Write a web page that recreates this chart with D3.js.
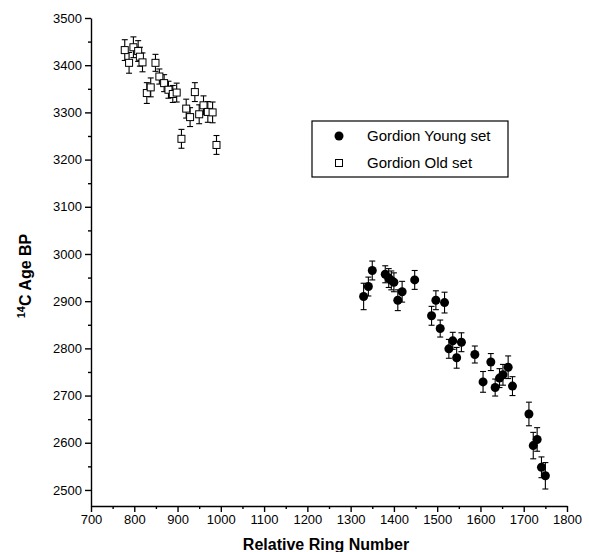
<!DOCTYPE html>
<html>
<head>
<meta charset="utf-8">
<script src="https://cdn.jsdelivr.net/npm/d3@7"></script>
<style>
  body { margin: 0; background: #fff; }
  text { font-family: "Liberation Sans", Arial, sans-serif; }
</style>
</head>
<body>
<svg id="chart" width="589" height="552"></svg>
<script>
// Gordion Old set (ring number, 14C age, error)
const oldRing = [778, 788, 798, 809, 813, 819, 829, 838, 849, 858, 869, 879, 889, 898, 909, 920, 929, 940, 950, 960, 970, 981, 990];
const oldAge  = [3432, 3405, 3438, 3430, 3418, 3406, 3341, 3353, 3405, 3376, 3362, 3348, 3339, 3342, 3244, 3308, 3290, 3343, 3296, 3315, 3301, 3300, 3231];
const oldErr  = [22, 22, 22, 22, 20, 20, 22, 20, 18, 16, 18, 18, 18, 20, 20, 20, 20, 20, 20, 20, 22, 22, 20];

// Gordion Young set
const youngRing = [1330, 1341, 1350, 1380, 1388, 1394, 1400, 1409, 1419, 1448, 1487, 1497, 1507, 1517, 1527, 1536, 1545, 1556, 1587, 1606, 1624, 1634, 1644, 1652, 1664, 1674, 1712, 1722, 1731, 1741, 1750];
const youngAge  = [2910, 2931, 2965, 2957, 2949, 2944, 2940, 2902, 2920, 2945, 2869, 2902, 2842, 2897, 2799, 2816, 2780, 2813, 2787, 2729, 2771, 2717, 2737, 2744, 2760, 2720, 2661, 2594, 2607, 2548, 2530];
const youngErr  = [28, 20, 20, 18, 20, 20, 20, 22, 22, 20, 20, 20, 18, 22, 20, 18, 22, 20, 18, 22, 18, 18, 20, 22, 24, 20, 25, 28, 25, 22, 28];

const xTicks = [700, 800, 900, 1000, 1100, 1200, 1300, 1400, 1500, 1600, 1700, 1800];
const yTicks = [2500, 2600, 2700, 2800, 2900, 3000, 3100, 3200, 3300, 3400, 3500];
const seriesNames = ["Gordion Young set", "Gordion Old set"];

const svg = d3.select("#chart");
const mLeft = 91, mRight = 567, mTop = 18, mBottom = 506;

const x = d3.scaleLinear().domain([700, 1800]).range([mLeft, mRight]);
const y = d3.scaleLinear().domain([2466, 3500]).range([mBottom, mTop]);

const minorX = d3.range(750, 1800, 100);
const minorY = d3.range(2550, 3500, 100);
const fmt = d3.format("d");

// axes
svg.append("g")
  .attr("transform", `translate(0,${mBottom})`)
  .call(d3.axisBottom(x).tickValues(xTicks).tickFormat(fmt).tickSizeInner(6).tickSizeOuter(0).tickPadding(3));
svg.append("g")
  .attr("transform", `translate(0,${mBottom})`)
  .call(d3.axisBottom(x).tickValues(minorX).tickSize(3).tickFormat(""))
  .select(".domain").remove();

svg.append("g")
  .attr("transform", `translate(${mLeft},0)`)
  .call(d3.axisLeft(y).tickValues(yTicks).tickFormat(fmt).tickSizeInner(6).tickSizeOuter(0).tickPadding(3));
svg.append("g")
  .attr("transform", `translate(${mLeft},0)`)
  .call(d3.axisLeft(y).tickValues(minorY).tickSize(3).tickFormat(""))
  .select(".domain").remove();

svg.selectAll(".domain, .tick line").attr("stroke", "#000").attr("stroke-width", 1.4);
svg.selectAll(".tick text").attr("font-size", "13px").attr("fill", "#000")
  .attr("font-family", "'Liberation Sans', Arial, sans-serif");

// axis titles
svg.append("text")
  .attr("x", (mLeft + mRight) / 2 - 3)
  .attr("y", mBottom + 44)
  .attr("text-anchor", "middle")
  .attr("font-size", "16px")
  .attr("font-weight", "bold")
  .text("Relative Ring Number");

const yt = svg.append("text")
  .attr("transform", `translate(31,276) rotate(-90)`)
  .attr("text-anchor", "middle")
  .attr("font-size", "16px")
  .attr("font-weight", "bold");
yt.append("tspan").attr("font-size", "11px").attr("dy", "-6").text("14");
yt.append("tspan").attr("dy", "6").text("C Age BP");

// error bars + markers
function drawSeries(ring, age, err, kind) {
  const g = svg.append("g");
  const d = ring.map((r, i) => ({ r: r, a: age[i], e: err[i] }));
  const eb = g.selectAll("g.eb").data(d).enter().append("g").attr("class", "eb")
    .attr("stroke", "#000").attr("stroke-width", 1.1);
  eb.append("line")
    .attr("x1", p => x(p.r)).attr("x2", p => x(p.r))
    .attr("y1", p => y(p.a - p.e)).attr("y2", p => y(p.a + p.e));
  eb.append("line")
    .attr("x1", p => x(p.r) - 3).attr("x2", p => x(p.r) + 3)
    .attr("y1", p => y(p.a - p.e)).attr("y2", p => y(p.a - p.e));
  eb.append("line")
    .attr("x1", p => x(p.r) - 3).attr("x2", p => x(p.r) + 3)
    .attr("y1", p => y(p.a + p.e)).attr("y2", p => y(p.a + p.e));
  if (kind === "circle") {
    g.selectAll("circle").data(d).enter().append("circle")
      .attr("cx", p => x(p.r)).attr("cy", p => y(p.a)).attr("r", 4.5)
      .attr("fill", "#000");
  } else {
    g.selectAll("rect").data(d).enter().append("rect")
      .attr("x", p => x(p.r) - 3.5).attr("y", p => y(p.a) - 3.5)
      .attr("width", 7).attr("height", 7)
      .attr("fill", "#fff").attr("stroke", "#000").attr("stroke-width", 1);
  }
}
drawSeries(oldRing, oldAge, oldErr, "square");
drawSeries(youngRing, youngAge, youngErr, "circle");

// legend
const lg = svg.append("g");
lg.append("rect").attr("x", 312).attr("y", 121).attr("width", 196).attr("height", 56)
  .attr("fill", "#fff").attr("stroke", "#000").attr("stroke-width", 1.2);
lg.append("circle").attr("cx", 339).attr("cy", 136).attr("r", 4.5).attr("fill", "#000");
lg.append("rect").attr("x", 335.5).attr("y", 159.5).attr("width", 7).attr("height", 7)
  .attr("fill", "#fff").attr("stroke", "#000");
lg.append("text").attr("x", 367).attr("y", 141).attr("font-size", "15px").text(seriesNames[0]);
lg.append("text").attr("x", 367).attr("y", 168).attr("font-size", "15px").text(seriesNames[1]);
</script>
</body>
</html>
